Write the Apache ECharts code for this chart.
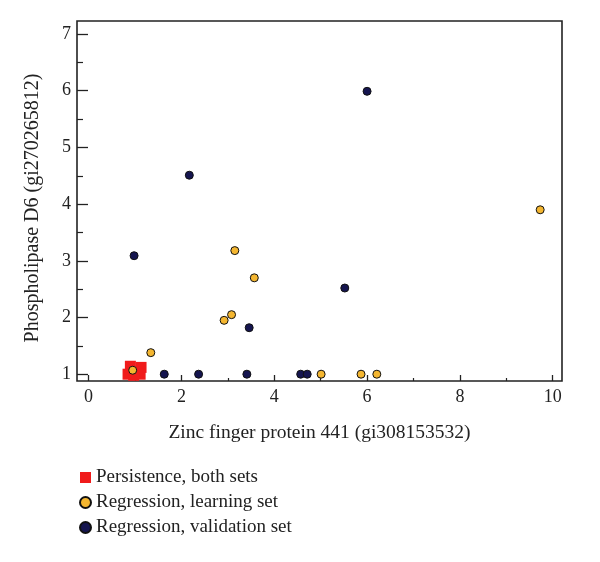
<!DOCTYPE html>
<html>
<head>
<meta charset="utf-8">
<script src="https://cdn.jsdelivr.net/npm/echarts@6/dist/echarts.min.js"></script>
<style>html,body{margin:0;padding:0;background:#fff}#c{width:600px;height:562px}</style>
</head>
<body>
<div id="c"></div>
<script>
// ---- data ----
const seriesNames = ['Persistence, both sets', 'Regression, learning set', 'Regression, validation set'];
const persistenceX = [0.90, 1.13, 0.85, 1.11, 0.97];
const persistenceY = [1.14, 1.12, 1.00, 1.00, 0.98];
const learningX = [0.95, 1.34, 2.92, 3.08, 3.15, 3.57, 5.01, 5.87, 6.21, 9.73];
const learningY = [1.07, 1.38, 1.95, 2.05, 3.18, 2.70, 1.00, 1.00, 1.00, 3.90];
const validationX = [0.98, 2.17, 6.00, 5.52, 3.46, 1.63, 2.37, 3.41, 4.57, 4.71];
const validationY = [3.09, 4.51, 5.99, 2.52, 1.82, 1.00, 1.00, 1.00, 1.00, 1.00];
const xMajorTicks = [0, 2, 4, 6, 8, 10];
const xMinorTicks = [1, 3, 5, 7, 9];
const yMajorTicks = [1, 2, 3, 4, 5, 6, 7];
const yMinorTicks = [1.5, 2.5, 3.5, 4.5, 5.5, 6.5];
const xTitle = 'Zinc finger protein 441 (gi308153532)';
const yTitle = 'Phospholipase D6 (gi270265812)';

const pair = (xs, ys) => xs.map((x, i) => [x, ys[i]]);
const FONT = '"Liberation Serif", "DejaVu Serif", serif';
const XMIN = -0.25, XMAX = 10.2, YMIN = 0.88, YMAX = 7.23;

const chart = echarts.init(document.getElementById('c'), null, {renderer: 'canvas'});
const baseX = {
  type: 'value', min: XMIN, max: XMAX, position: 'bottom', gridIndex: 0,
  axisLine: {show: false, onZero: false}, splitLine: {show: false}
};
const baseY = {
  type: 'value', min: YMIN, max: YMAX, position: 'left', gridIndex: 0,
  axisLine: {show: false, onZero: false}, splitLine: {show: false}
};
chart.setOption({
  animation: false,
  backgroundColor: '#fff',
  grid: {left: 77, right: 38, top: 21, bottom: 181, show: true, borderColor: '#222', borderWidth: 1.6, backgroundColor: 'transparent'},
  xAxis: [
    Object.assign({}, baseX, {
      name: xTitle, nameLocation: 'middle', nameGap: 42,
      nameTextStyle: {fontFamily: FONT, fontSize: 19.5, color: '#222'},
      axisTick: {show: true, inside: true, length: 6, customValues: xMajorTicks, lineStyle: {color: '#222', width: 1.3}},
      axisLabel: {show: true, customValues: xMajorTicks, fontFamily: FONT, fontSize: 18, color: '#222', margin: 7}
    }),
    Object.assign({}, baseX, {
      axisTick: {show: true, inside: true, length: 3, customValues: xMinorTicks, lineStyle: {color: '#222', width: 1.2}},
      axisLabel: {show: false}
    })
  ],
  yAxis: [
    Object.assign({}, baseY, {
      name: yTitle, nameLocation: 'middle', nameGap: 34,
      nameTextStyle: {fontFamily: FONT, fontSize: 20, color: '#222', padding: [0, 14, 0, 0]},
      axisTick: {show: true, inside: true, length: 11, customValues: yMajorTicks, lineStyle: {color: '#222', width: 1.3}},
      axisLabel: {show: true, customValues: yMajorTicks, fontFamily: FONT, fontSize: 18, color: '#222', margin: 6}
    }),
    Object.assign({}, baseY, {
      axisTick: {show: true, inside: true, length: 6, customValues: yMinorTicks, lineStyle: {color: '#222', width: 1.2}},
      axisLabel: {show: false}
    })
  ],
  legend: {
    orient: 'vertical', left: 79, top: 468, padding: 0, itemGap: 6, itemWidth: 11, itemHeight: 11,
    textStyle: {fontFamily: FONT, fontSize: 19, color: '#222', lineHeight: 19},
    data: [
      {name: seriesNames[0], icon: 'rect'},
      {name: seriesNames[1], icon: 'circle'},
      {name: seriesNames[2], icon: 'circle'}
    ]
  },
  series: [
    {name: seriesNames[0], type: 'scatter', symbol: 'rect', symbolSize: 11,
      itemStyle: {color: '#F01B1B', borderWidth: 0, opacity: 1}, data: pair(persistenceX, persistenceY)},
    {name: seriesNames[1], type: 'scatter', symbol: 'circle', symbolSize: 8,
      itemStyle: {color: '#F4B630', borderColor: '#111', borderWidth: 1, opacity: 1}, data: pair(learningX, learningY)},
    {name: seriesNames[2], type: 'scatter', symbol: 'circle', symbolSize: 8,
      itemStyle: {color: '#15154F', borderColor: '#111', borderWidth: 1, opacity: 1}, data: pair(validationX, validationY)}
  ]
});
</script>
</body>
</html>
